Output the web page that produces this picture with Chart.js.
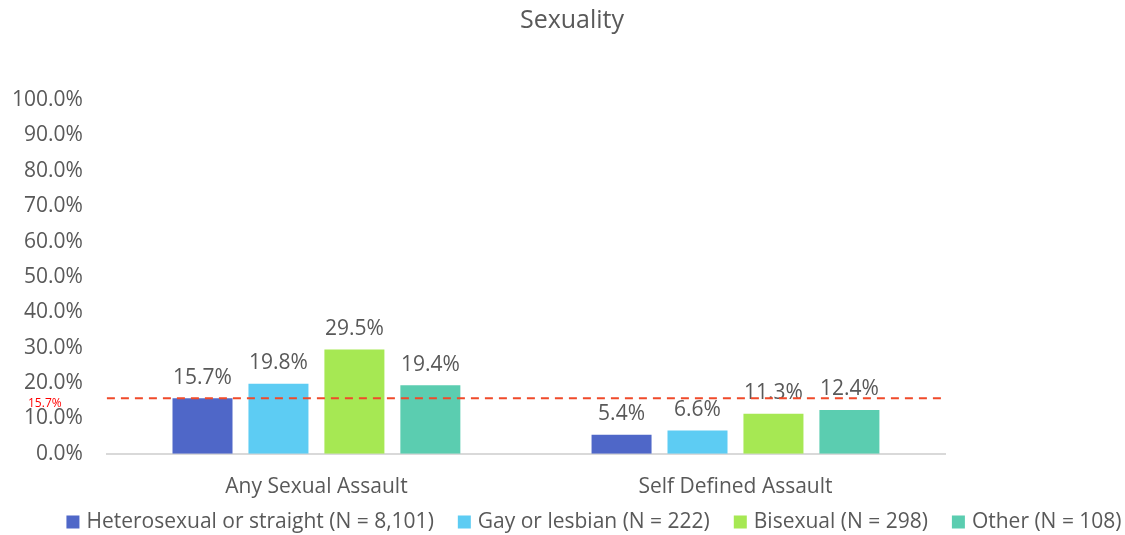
<!DOCTYPE html>
<html><head><meta charset="utf-8">
<script src="https://cdn.jsdelivr.net/npm/chart.js@4"></script>
<style>html,body{margin:0;padding:0;background:#fff}#wrap{width:1125px;height:535px}</style>
</head><body><div id="wrap"><canvas id="c" width="1125" height="535"></canvas></div>
<script>
const categories = ["Any Sexual Assault", "Self Defined Assault"];
const seriesNames = ["Heterosexual or straight (N = 8,101)", "Gay or lesbian (N = 222)", "Bisexual (N = 298)", "Other (N = 108)"];
const heterosexual = [15.7, 5.4];
const gayLesbian = [19.8, 6.6];
const bisexual = [29.5, 11.3];
const other = [19.4, 12.4];
const referenceValue = 15.7;
const titleText = "Sexuality";
const colors = ["#4F67C8", "#5DCCF3", "#A6E853", "#5BCDB0"];
const FONT = "'Open Sans', 'Liberation Sans', sans-serif";
const GREY = "#595959";

const decorPlugin = {
  id: 'decor',
  afterDatasetsDraw(chart) {
    const ctx = chart.ctx;
    ctx.save();
    // data labels
    ctx.font = "21px " + FONT;
    ctx.fillStyle = GREY;
    ctx.textAlign = 'center';
    ctx.textBaseline = 'bottom';
    chart.data.datasets.forEach((ds, i) => {
      chart.getDatasetMeta(i).data.forEach((bar, j) => {
        ctx.fillText(ds.data[j].toFixed(1) + '%', bar.x, bar.y - 10);
      });
    });
    // reference line
    const y = chart.scales.y.getPixelForValue(referenceValue);
    const a = chart.chartArea;
    ctx.strokeStyle = '#F04A2A';
    ctx.lineWidth = 2;
    ctx.setLineDash([8, 6]);
    ctx.beginPath();
    ctx.moveTo(a.left, y);
    ctx.lineTo(a.right, y);
    ctx.stroke();
    ctx.setLineDash([]);
    ctx.font = "12px " + FONT;
    ctx.fillStyle = '#FF0000';
    ctx.textAlign = 'left';
    ctx.textBaseline = 'middle';
    ctx.fillText(referenceValue.toFixed(1) + '%', 28, y + 5);
    // title
    ctx.font = "25px " + FONT;
    ctx.fillStyle = GREY;
    ctx.textAlign = 'center';
    ctx.fillText(titleText, 572, 21);
    // legend
    ctx.font = "21px " + FONT;
    const box = 13, gapText = 7, gapItem = 24;
    const widths = seriesNames.map(n => ctx.measureText(n).width);
    const total = widths.reduce((s, w) => s + box + gapText + w, 0) + gapItem * (seriesNames.length - 1);
    let x = 594 - total / 2;
    const ly = 522;
    ctx.textAlign = 'left';
    seriesNames.forEach((n, i) => {
      ctx.fillStyle = colors[i];
      ctx.fillRect(x, ly - box / 2, box, box);
      ctx.fillStyle = GREY;
      ctx.fillText(n, x + box + gapText, ly);
      x += box + gapText + widths[i] + gapItem;
    });
    ctx.restore();
  }
};

new Chart(document.getElementById('c'), {
  type: 'bar',
  data: {
    labels: categories,
    datasets: [heterosexual, gayLesbian, bisexual, other].map((d, i) => ({
      label: seriesNames[i], data: d, backgroundColor: colors[i],
      categoryPercentage: 0.725, barPercentage: 0.79
    }))
  },
  options: {
    responsive: false,
    animation: false,
    layout: { padding: { left: -12, right: 180, top: 100, bottom: 14 } },
    plugins: {
      title: { display: false },
      legend: { display: false },
      tooltip: { enabled: false }
    },
    scales: {
      x: {
        grid: { display: false, drawTicks: false },
        border: { color: '#D9D9D9', width: 2 },
        ticks: { color: GREY, font: { family: FONT, size: 21 }, padding: 21 }
      },
      y: {
        min: 0, max: 100,
        grid: { display: false, drawTicks: false },
        border: { display: false },
        ticks: { stepSize: 10, color: GREY, font: { family: FONT, size: 21 }, padding: 24, callback: v => v.toFixed(1) + '%' }
      }
    }
  },
  plugins: [decorPlugin]
});
</script></body></html>
